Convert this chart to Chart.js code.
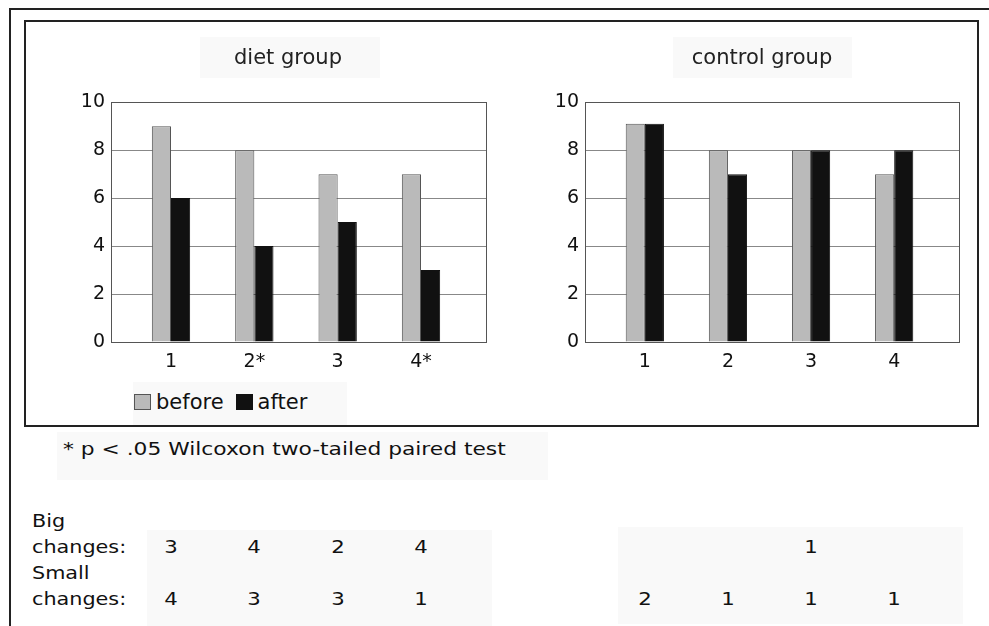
<!DOCTYPE html>
<html>
<head>
<meta charset="utf-8">
<title>diet vs control</title>
<script src="https://cdn.jsdelivr.net/npm/chart.js@4.4.1/dist/chart.umd.min.js"></script>
<style>
html, body { margin: 0; padding: 0; background: #fff; width: 989px; height: 626px; overflow: hidden;
  font-family: 'DejaVu Sans', Verdana, sans-serif; color: #111; }
.abs { position: absolute; }
.shade { position: absolute; background: #f9f9f9; }
#outer { left: 9px; top: 8px; width: 1000px; height: 700px; border-left: 2px solid #222; border-top: 2px solid #222; }
#inner { left: 24px; top: 20px; width: 951px; height: 403px; border: 2px solid #222; }
canvas { position: absolute; top: 20px; }
#legend { left: 134px; top: 390px; display: flex; align-items: center; font-size: 21px; line-height: 24px; }
#legend .item { display: flex; align-items: center; margin-right: 12px; }
#legend .box { width: 15px; height: 14px; margin-right: 5px; }
.txt { position: absolute; font-size: 17px; line-height: 26px; white-space: nowrap; transform-origin: left center; transform: scaleX(1.28); }
.num { position: absolute; font-size: 17px; line-height: 26px; transform: translateX(-50%) scaleX(1.25); }
</style>
</head>
<body>
<div class="shade" style="left:200px;top:37px;width:180px;height:41px"></div>
<div class="shade" style="left:673px;top:37px;width:179px;height:41px"></div>
<div class="shade" style="left:133px;top:382px;width:214px;height:43px"></div>
<div class="shade" style="left:57px;top:432px;width:491px;height:48px"></div>
<div class="shade" style="left:147px;top:530px;width:345px;height:96px"></div>
<div class="shade" style="left:618px;top:527px;width:345px;height:97px"></div>
<div id="outer" class="abs"></div>
<div id="inner" class="abs"></div>
<canvas id="diet" width="496" height="360" style="left:40px"></canvas>
<canvas id="control" width="496" height="360" style="left:514px"></canvas>
<div id="legend" class="abs"></div>
<div class="txt" style="left:63px;top:436px">* p &lt; .05 Wilcoxon two-tailed paired test</div>
<div class="txt" style="left:32px;top:508px;transform:scaleX(1.22)">Big<br>changes:<br>Small<br>changes:</div>
<script>
const categories = [1, 2, 3, 4];
const dietTickLabels = ['1', '2*', '3', '4*'];
const controlTickLabels = ['1', '2', '3', '4'];
const yTicks = [0, 2, 4, 6, 8, 10];

const seriesNames = ['before', 'after'];
const seriesColors = ['#bababa', '#111111'];
const seriesBorders = ['#555555', '#111111'];

const dietBefore = [9, 8, 7, 7];
const dietAfter = [6, 4, 5, 3];
const controlBefore = [9.1, 8, 8, 7];
const controlAfter = [9.1, 7, 8, 8];

// counts printed under the charts
const dietBig = [3, 4, 2, 4];
const dietSmall = [4, 3, 3, 1];
const controlBig = ['', '', 1, ''];
const controlSmall = [2, 1, 1, 1];

const FONT = "'DejaVu Sans', Verdana, sans-serif";

// grey frame round the plot area
const frame = {
  id: 'frame',
  beforeDatasetsDraw(c) {
    const a = c.chartArea, ctx = c.ctx;
    ctx.save();
    ctx.strokeStyle = '#555';
    ctx.lineWidth = 1;
    ctx.strokeRect(Math.round(a.left) + 0.5, Math.round(a.top) + 0.5,
      Math.round(a.right - a.left), Math.round(a.bottom - a.top));
    ctx.restore();
  }
};

function makeChart(id, title, tickLabels, before, after, rightGap) {
  return new Chart(document.getElementById(id), {
    type: 'bar',
    data: {
      datasets: [before, after].map((vals, k) => ({
        label: seriesNames[k],
        data: categories.map((c, i) => ({ x: c, y: vals[i] })),
        backgroundColor: seriesColors[k],
        borderColor: seriesBorders[k],
        borderWidth: 1,
        categoryPercentage: 0.46,
        barPercentage: 1
      }))
    },
    options: {
      responsive: false,
      animation: false,
      devicePixelRatio: 1,
      layout: { padding: 0 },
      plugins: {
        legend: { display: false },
        tooltip: { enabled: false },
        title: { display: true, text: title, color: '#222',
          font: { family: FONT, size: 21, weight: 'normal' }, padding: { top: 26, bottom: 31 } }
      },
      scales: {
        x: {
          type: 'linear', min: 0.28, max: 4.78, offset: false,
          grid: { display: false, offset: false }, border: { display: false },
          afterBuildTicks: s => { s.ticks = categories.map(v => ({ value: v })); },
          afterFit: s => { s.height = 38; },
          ticks: { color: '#111', font: { family: FONT, size: 19 }, padding: 1, maxRotation: 0, autoSkip: false,
            callback: v => tickLabels[categories.indexOf(v)] }
        },
        y: {
          min: 0, max: 10,
          afterBuildTicks: s => { s.ticks = yTicks.map(v => ({ value: v })); },
          afterFit: s => { s.width = 71; },
          grid: { color: '#888', drawTicks: false }, border: { display: false },
          ticks: { color: '#111', font: { family: FONT, size: 19 }, padding: 6 }
        },
        // empty axis on the right, keeps the title centred like the original
        gap: {
          position: 'right', min: 0, max: 10,
          grid: { display: false }, border: { display: false }, ticks: { display: false },
          afterFit: s => { s.width = rightGap; }
        }
      }
    },
    plugins: [frame]
  });
}

const dietChart = makeChart('diet', 'diet group', dietTickLabels, dietBefore, dietAfter, 50);
const controlChart = makeChart('control', 'control group', controlTickLabels, controlBefore, controlAfter, 51);

// legend from the dataset settings
const legend = document.getElementById('legend');
dietChart.data.datasets.forEach(ds => {
  const item = document.createElement('div');
  item.className = 'item';
  item.innerHTML = `<span class="box" style="background:${ds.backgroundColor};border:1px solid ${ds.borderColor}"></span><span>${ds.label}</span>`;
  legend.appendChild(item);
});

// put the count rows under the matching categories
function placeRow(chart, vals, top) {
  const left = chart.canvas.offsetLeft;
  vals.forEach((v, i) => {
    if (v === '' || v == null) return;
    const s = document.createElement('span');
    s.className = 'num';
    s.textContent = v;
    s.style.left = (left + chart.scales.x.getPixelForValue(categories[i])) + 'px';
    s.style.top = top + 'px';
    document.body.appendChild(s);
  });
}
placeRow(dietChart, dietBig, 534);
placeRow(dietChart, dietSmall, 586);
placeRow(controlChart, controlBig, 534);
placeRow(controlChart, controlSmall, 586);
</script>
</body>
</html>
